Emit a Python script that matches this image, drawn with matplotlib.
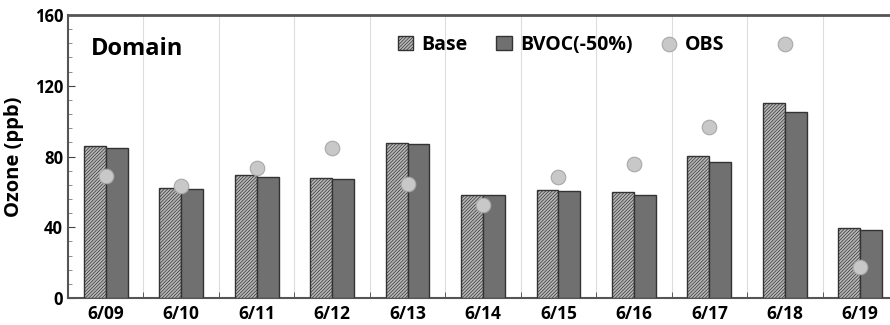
import numpy as np
import matplotlib.pyplot as plt
from matplotlib.ticker import MultipleLocator

dates = ['6/09', '6/10', '6/11', '6/12', '6/13', '6/14', '6/15', '6/16', '6/17', '6/18', '6/19']
base = [86, 62, 69.5, 68, 87.5, 58.5, 61, 60, 80.5, 110, 39.5]
bvoc = [85, 61.5, 68.5, 67, 87, 58, 60.5, 58.5, 77, 105, 38.5]
obs = [69, 63.5, 73.5, 85, 64.5, 52.5, 68.5, 75.5, 96.5, 143.5, 17.5]

plt.rcParams['font.family'] = ['Open Sans', 'DejaVu Sans']
plt.rcParams['font.weight'] = 'bold'
plt.rcParams['hatch.color'] = '#3a3a3a'
plt.rcParams['hatch.linewidth'] = 0.5

fig = plt.figure(figsize=(8.9, 3.25), dpi=100)
ax = fig.add_axes([68 / 890, 27 / 325, 830 / 890, 283 / 325])

x = np.arange(len(dates))
w = 0.29
b1 = ax.bar(x - w / 2, base, w, color='#b8b8b8', edgecolor='#333333', linewidth=1.0,
            hatch='//////////', label='Base', zorder=3)
b2 = ax.bar(x + w / 2, bvoc, w, color='#707070', edgecolor='#333333', linewidth=1.0,
            label='BVOC(-50%)', zorder=3)
sc = ax.scatter(x, obs, s=110, color='#c8c8c8', edgecolor='#a8a8a8', linewidth=0.8,
                label='OBS', zorder=4)

# category separators
for b in np.arange(0.5, len(dates) - 0.5, 1):
    ax.axvline(b, color='#dddddd', linewidth=0.8, zorder=1)

ax.set_xlim(-0.5, len(dates) - 0.5)
ax.set_ylim(0, 160)
ax.set_xticks(x)
ax.set_xticklabels(dates)
ax.set_xticks(np.arange(0.5, len(dates) - 0.5, 1), minor=True)
ax.yaxis.set_major_locator(MultipleLocator(40))
ax.yaxis.set_minor_locator(MultipleLocator(8))
ax.tick_params(axis='x', which='major', length=0, labelsize=12.5, pad=5)
ax.tick_params(axis='x', which='minor', direction='in', length=4, color='#444444')
ax.tick_params(axis='y', which='major', direction='in', length=5, labelsize=12, color='#444444')
ax.tick_params(axis='y', which='minor', direction='in', length=3, color='#777777')

for s in ['left', 'bottom', 'top']:
    ax.spines[s].set_color('#555555')
    ax.spines[s].set_linewidth(1.5)
ax.spines['top'].set_linewidth(2.0)
ax.spines['right'].set_visible(False)

ax.set_ylabel('Ozone (ppb)', fontsize=14.5, fontweight='bold', labelpad=8)
ax.text(0.027, 0.88, 'Domain', transform=ax.transAxes, fontsize=17,
        fontweight='bold', va='center')

ax.legend([b1, b2, sc], ['Base', 'BVOC(-50%)', 'OBS'], loc='center',
          bbox_to_anchor=(0.594, 0.895), ncol=3, frameon=False,
          handlelength=0.8, handleheight=0.8, handletextpad=0.4,
          columnspacing=1.5, prop={'weight': 'bold', 'size': 14})

fig.savefig('out.png', dpi=100)
